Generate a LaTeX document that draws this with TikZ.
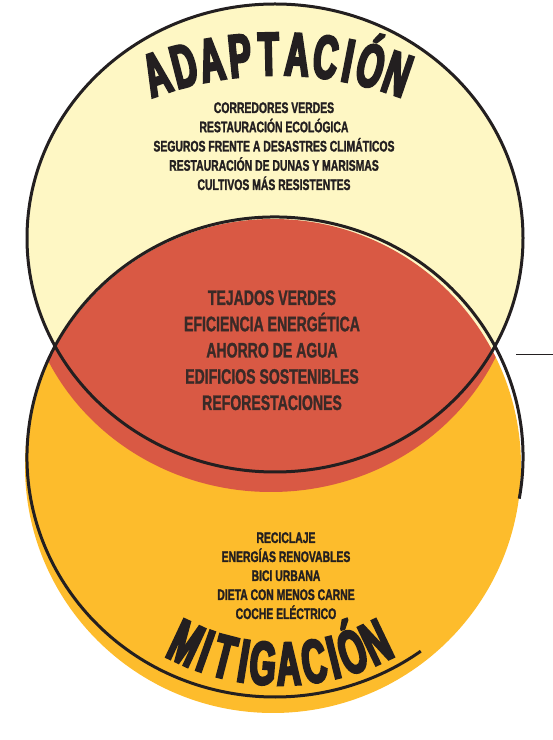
\documentclass[tikz,border=0pt]{standalone}
\usepackage{fontspec}
\newfontfamily\listfont[FakeStretch=0.68,FakeBold=1.5]{Liberation Sans}
\newfontfamily\midfont[FakeStretch=0.67,FakeBold=1.2]{Liberation Sans}
\newfontfamily\titlefont[FakeStretch=0.55,FakeBold=4]{Liberation Sans}
\definecolor{ylw}{HTML}{FEF7C4}
\definecolor{org}{HTML}{FDBC2C}
\definecolor{redf}{HTML}{D95944}
\definecolor{ink}{HTML}{231F20}
\definecolor{midink}{HTML}{3A2A27}
\begin{document}
\begin{tikzpicture}[x=1pt,y=1pt,
  outline/.style={draw=ink, line width=3pt},
  listtxt/.style={font={\listfont\bfseries\fontsize{15.3}{15.3}\selectfont}, text=ink, anchor=base, inner sep=0pt},
  midtxt/.style={font={\midfont\bfseries\fontsize{21}{21}\selectfont}, text=midink, anchor=base, inner sep=0pt},
  titlechar/.style={font={\titlefont\bfseries\fontsize{61}{61}\selectfont}, text=ink, anchor=base, inner sep=0pt}
]
\useasboundingbox (0,0) rectangle (553,740);
% fills
\fill[org] (273,274) ellipse [x radius=248pt, y radius=247pt];
\fill[ylw] (275,502) ellipse [x radius=248pt, y radius=234pt];
\begin{scope}
  \clip (273,274) ellipse [x radius=248pt, y radius=247pt];
  \fill[redf] (271,482) ellipse [x radius=248pt, y radius=234pt];
\end{scope}
% outlines
\draw[outline] (275,502) ellipse [x radius=248pt, y radius=234pt];
\draw[outline] (275,283) ++(-10:248pt and 240pt) arc[start angle=-10, end angle=306, x radius=248pt, y radius=240pt];
% callout line
\coordinate (c1) at (516,385);
\coordinate (c2) at (553,385);
\draw[ink, line width=1pt] (c1) -- (c2);
% titles
\foreach \ch/\ang [count=\i] in {A/-18.8, D/-14.4, A/-10.1, P/-5.7, T/-1.3, A/3.1, C/7.5, I/11.0, Ó/14.5, N/18.8}
  \node[titlechar, rotate=-\ang] (ta\i) at ({277+353*sin(\ang)},{312+353*cos(\ang)}) {\ch};
\foreach \ch/\ang [count=\i] in {M/-25.1, I/-19.6, T/-14.5, I/-9.4, G/-4.4, A/2.2, C/8.8, I/13.9, Ó/19.0, N/25.6}
  \node[titlechar, rotate=\ang] (tb\i) at ({280+243*sin(\ang)},{298-243*cos(\ang)}) {\ch};
% lists
\foreach \t [count=\i] in {CORREDORES VERDES, RESTAURACIÓN ECOLÓGICA, SEGUROS FRENTE A DESASTRES CLIMÁTICOS, RESTAURACIÓN DE DUNAS Y MARISMAS, CULTIVOS MÁS RESISTENTES}
  \node[listtxt] (a\i) at (274,{627-19.25*(\i-1)}) {\t};
\foreach \t [count=\i] in {TEJADOS VERDES, EFICIENCIA ENERGÉTICA, AHORRO DE AGUA, EDIFICIOS SOSTENIBLES, REFORESTACIONES}
  \node[midtxt] (m\i) at (272,{435-26.25*(\i-1)}) {\t};
\foreach \t [count=\i] in {RECICLAJE, ENERGÍAS RENOVABLES, BICI URBANA, DIETA CON MENOS CARNE, COCHE ELÉCTRICO}
  \node[listtxt] (b\i) at (286,{197-19*(\i-1)}) {\t};
\end{tikzpicture}
\end{document}
